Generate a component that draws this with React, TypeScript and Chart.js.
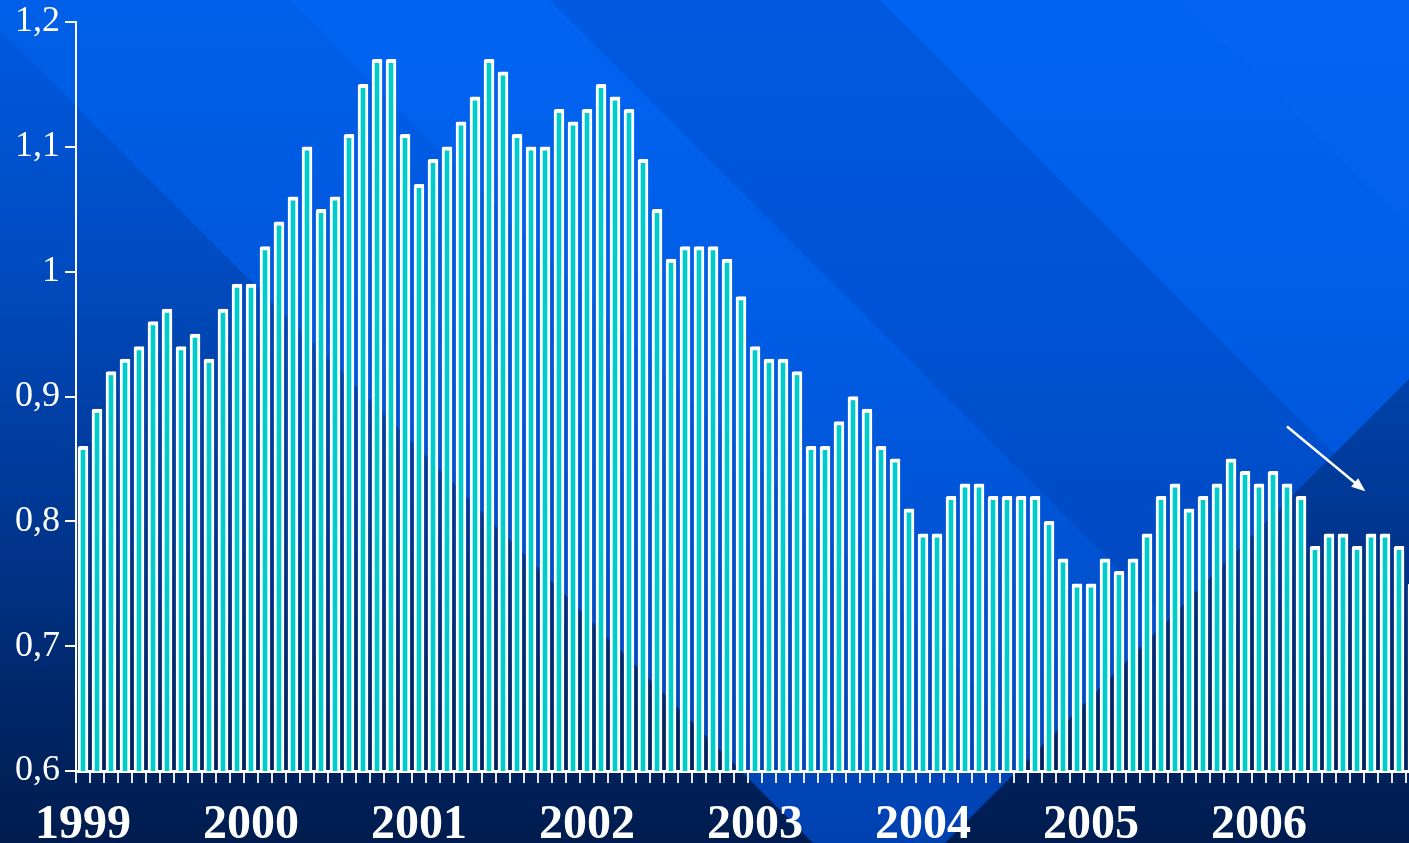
import React, { useEffect, useRef } from 'react';
import { Chart, registerables } from 'chart.js';

Chart.register(...registerables);

const years = ['1999', '2000', '2001', '2002', '2003', '2004', '2005', '2006'];
const months = ['Jan', 'Feb', 'Mar', 'Apr', 'May', 'Jun', 'Jul', 'Aug', 'Sep', 'Oct', 'Nov', 'Dec'];

const values1999 = [0.86, 0.89, 0.92, 0.93, 0.94, 0.96, 0.97, 0.94, 0.95, 0.93, 0.97, 0.99];
const values2000 = [0.99, 1.02, 1.04, 1.06, 1.10, 1.05, 1.06, 1.11, 1.15, 1.17, 1.17, 1.11];
const values2001 = [1.07, 1.09, 1.10, 1.12, 1.14, 1.17, 1.16, 1.11, 1.10, 1.10, 1.13, 1.12];
const values2002 = [1.13, 1.15, 1.14, 1.13, 1.09, 1.05, 1.01, 1.02, 1.02, 1.02, 1.01, 0.98];
const values2003 = [0.94, 0.93, 0.93, 0.92, 0.86, 0.86, 0.88, 0.90, 0.89, 0.86, 0.85, 0.81];
const values2004 = [0.79, 0.79, 0.82, 0.83, 0.83, 0.82, 0.82, 0.82, 0.82, 0.80, 0.77, 0.75];
const values2005 = [0.75, 0.77, 0.76, 0.77, 0.79, 0.82, 0.83, 0.81, 0.82, 0.83, 0.85, 0.84];
const values2006 = [0.83, 0.84, 0.83, 0.82, 0.78, 0.79, 0.79, 0.78, 0.79, 0.79, 0.78, 0.75];

const yTickLabels = ['0,6', '0,7', '0,8', '0,9', '1', '1,1', '1,2'];

// arrow annotation in data coordinates (category index, value)
const arrowFrom = { x: 86.0, y: 0.876 };
const arrowTo = { x: 91.6, y: 0.824 };

const categories = years.flatMap((y) => months.map((m) => `${m} ${y}`));
const rateValues = [
  ...values1999, ...values2000, ...values2001, ...values2002,
  ...values2003, ...values2004, ...values2005, ...values2006,
];

const SERIF = "'Liberation Serif', 'Times New Roman', serif";

const bgPlugin = {
  id: 'bgPlugin',
  beforeDraw(chart: any) {
    const { ctx, width: W, height: H } = chart;
    ctx.save();
    // bright base
    const g = ctx.createLinearGradient(0, 0, 0, H);
    g.addColorStop(0, '#0064F2');
    g.addColorStop(0.4, '#005CE4');
    g.addColorStop(0.75, '#004FCC');
    g.addColorStop(1, '#0045B6');
    ctx.fillStyle = g;
    ctx.fillRect(0, 0, W, H);

    // very mild darker stripe between a (y=x+30) and b (y=x-290)
    ctx.fillStyle = 'rgba(0,20,90,0.06)';
    ctx.beginPath();
    ctx.moveTo(0, 30);
    ctx.lineTo(0, 0);
    ctx.lineTo(290, 0);
    ctx.lineTo(290 + H, H);
    ctx.lineTo(H - 30, H);
    ctx.closePath();
    ctx.fill();

    // darker stripe between c (y=x-550) and d (y=x-880)
    ctx.fillStyle = 'rgba(0,20,90,0.12)';
    ctx.beginPath();
    ctx.moveTo(550, 0);
    ctx.lineTo(880, 0);
    ctx.lineTo(880 + H, H);
    ctx.lineTo(550 + H, H);
    ctx.closePath();
    ctx.fill();

    // lighter top-right stripe
    ctx.fillStyle = 'rgba(40,120,255,0.07)';
    ctx.beginPath();
    ctx.moveTo(1180, 0);
    ctx.lineTo(W, 0);
    ctx.lineTo(W, W - 1180);
    ctx.closePath();
    ctx.fill();

    // dark outer regions
    const d = ctx.createLinearGradient(0, 0, 0, H);
    d.addColorStop(0, '#005AE2');
    d.addColorStop(0.3, '#004CC2');
    d.addColorStop(0.6, '#003894');
    d.addColorStop(0.88, '#002360');
    d.addColorStop(1, '#001C4E');
    ctx.fillStyle = d;
    ctx.beginPath();
    ctx.moveTo(0, 30);
    ctx.lineTo(H - 30, H);
    ctx.lineTo(0, H);
    ctx.closePath();
    ctx.fill();

    const c = 1788;
    ctx.beginPath();
    ctx.moveTo(c - H, H);
    ctx.lineTo(W, c - W);
    ctx.lineTo(W, H);
    ctx.closePath();
    ctx.fill();
    ctx.restore();
  },
};

const arrowPlugin = {
  id: 'arrowPlugin',
  afterDatasetsDraw(chart: any) {
    const { ctx, scales } = chart;
    const x1 = scales.x.getPixelForValue(arrowFrom.x);
    const y1 = scales.y.getPixelForValue(arrowFrom.y);
    const x2 = scales.x.getPixelForValue(arrowTo.x);
    const y2 = scales.y.getPixelForValue(arrowTo.y);
    const ang = Math.atan2(y2 - y1, x2 - x1);
    const head = 14;
    const hw = 5.5;
    ctx.save();
    ctx.strokeStyle = '#FFFFFF';
    ctx.fillStyle = '#FFFFFF';
    ctx.lineWidth = 2.5;
    ctx.beginPath();
    ctx.moveTo(x1, y1);
    ctx.lineTo(x2 - Math.cos(ang) * head * 0.8, y2 - Math.sin(ang) * head * 0.8);
    ctx.stroke();
    ctx.beginPath();
    ctx.moveTo(x2, y2);
    ctx.lineTo(
      x2 - Math.cos(ang) * head - Math.sin(ang) * hw,
      y2 - Math.sin(ang) * head + Math.cos(ang) * hw
    );
    ctx.lineTo(
      x2 - Math.cos(ang) * head + Math.sin(ang) * hw,
      y2 - Math.sin(ang) * head - Math.cos(ang) * hw
    );
    ctx.closePath();
    ctx.fill();
    ctx.restore();
  },
};

export default function App() {
  const ref = useRef<HTMLCanvasElement | null>(null);

  useEffect(() => {
    if (!ref.current) return;
    const chart = new Chart(ref.current, {
      type: 'bar',
      data: {
        labels: categories,
        datasets: [
          {
            data: rateValues,
            backgroundColor: '#00CCCC',
            borderColor: '#FFFFFF',
            borderWidth: { left: 3, right: 3, top: 4, bottom: 0 },
            borderSkipped: 'start',
            borderRadius: { topLeft: 2, topRight: 1, bottomLeft: 0, bottomRight: 0 },
            barThickness: 10,
          },
        ],
      },
      options: {
        responsive: false,
        animation: false,
        layout: { padding: { top: 22, left: 0, right: 0, bottom: 0 } },
        plugins: {
          legend: { display: false },
          tooltip: { enabled: false },
        },
        scales: {
          x: {
            offset: true,
            grid: {
              display: true,
              drawOnChartArea: false,
              drawTicks: true,
              tickLength: 12,
              color: '#E4E8F2',
              lineWidth: 2,
              offset: true,
            },
            border: { display: true, color: '#FFFFFF', width: 3 },
            ticks: {
              autoSkip: false,
              maxRotation: 0,
              minRotation: 0,
              color: '#FFFFFF',
              padding: 14,
              font: { family: SERIF, size: 48, weight: 'bold' },
              callback: (_v: any, i: number) => (i % 12 === 0 ? years[i / 12] : ''),
            },
            afterFit: (s: any) => {
              s.height = 72;
              s.paddingLeft = 0;
              s.paddingRight = 0;
              s.paddingTop = 0;
              s.paddingBottom = 0;
            },
          },
          y: {
            min: 0.6,
            max: 1.2,
            grid: {
              drawOnChartArea: false,
              drawTicks: true,
              tickLength: 11,
              color: '#FFFFFF',
              lineWidth: 2,
            },
            border: { display: true, color: '#FFFFFF', width: 2 },
            ticks: {
              stepSize: 0.1,
              color: '#FFFFFF',
              padding: 5,
              font: { family: SERIF, size: 36 },
              callback: (_v: any, i: number) => yTickLabels[i],
            },
            afterFit: (s: any) => {
              s.width = 76;
              s.paddingLeft = 0;
              s.paddingRight = 0;
              s.paddingTop = 0;
              s.paddingBottom = 0;
            },
          },
        },
      },
      plugins: [bgPlugin, arrowPlugin],
    } as any);
    return () => chart.destroy();
  }, []);

  return (
    <div
      style={{
        position: 'fixed',
        left: 0,
        top: 0,
        width: 1409,
        height: 843,
        overflow: 'hidden',
      }}
    >
      <canvas ref={ref} width={1420} height={843} style={{ display: 'block' }} />
    </div>
  );
}
